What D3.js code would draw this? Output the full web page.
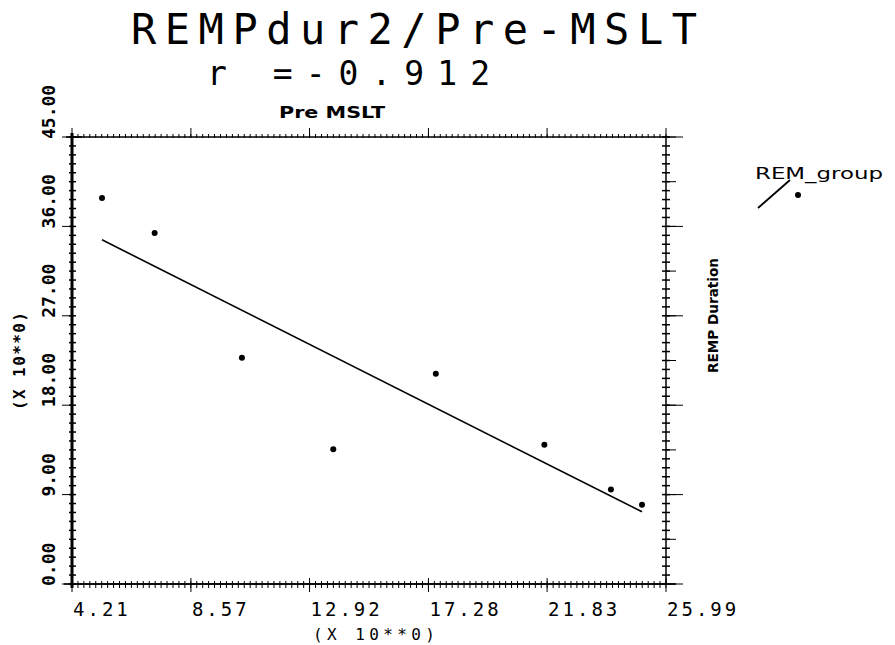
<!DOCTYPE html>
<html>
<head>
<meta charset="utf-8">
<script src="https://cdn.jsdelivr.net/npm/d3@7"></script>
<style>
  body { margin: 0; background: #fff; }
  svg { display: block; }
  text { fill: #000; }
  .mono { font-family: "DejaVu Sans Mono", monospace; }
</style>
</head>
<body>
<div id="chart"></div>
<script>
// values
const preMSLT = [5.31, 7.24, 10.44, 13.79, 17.55, 21.53, 23.97, 25.11]
const rempDuration = [38.85, 35.33, 22.77, 13.56, 21.16, 14.03, 9.51, 7.97]

const xTickValues = [4.21, 8.57, 12.92, 17.28, 21.63, 25.99]
const xTickLabels = ['4.21', '8.57', '12.92', '17.28', '21.83', '25.99']
const yTickValues = [0, 9, 18, 27, 36, 45]
const yTickLabels = ['0.00', '9.00', '18.00', '27.00', '36.00', '45.00']

const titleLines = ['REMPdur2/Pre-MSLT', 'r =-0.912']
const legendLabel = 'REM_group'

const W = 895, H = 645
const DIM = { left: 72, top: 137, right: 666, bottom: 584 }

const svg = d3.select('#chart').append('svg')
    .attr('width', W)
    .attr('height', H)

const x = d3.scaleLinear().domain([4.21, 25.99]).range([DIM.left, DIM.right])
const y = d3.scaleLinear().domain([0, 45]).range([DIM.bottom, DIM.top])

// title
svg.append('text')
    .attr('class', 'mono')
    .attr('x', 131).attr('y', 44)
    .attr('font-size', 42)
    .attr('textLength', 566)
    .attr('lengthAdjust', 'spacing')
    .text(titleLines[0])

svg.append('text')
    .attr('class', 'mono')
    .attr('x', 207).attr('y', 85)
    .attr('font-size', 33)
    .attr('textLength', 283)
    .attr('lengthAdjust', 'spacing')
    .text(titleLines[1])

// frame
const frame = svg.append('g').attr('stroke', '#000').attr('fill', 'none')
frame.append('rect')
    .attr('x', DIM.left).attr('y', DIM.top)
    .attr('width', DIM.right - DIM.left).attr('height', DIM.bottom - DIM.top)
    .attr('stroke-width', 1.5)
// left axis a bit heavier
frame.append('line')
    .attr('x1', DIM.left).attr('x2', DIM.left)
    .attr('y1', DIM.top - 4).attr('y2', DIM.bottom + 4)
    .attr('stroke-width', 3)
frame.append('line')
    .attr('x1', DIM.left - 8).attr('x2', DIM.right + 10)
    .attr('y1', DIM.bottom).attr('y2', DIM.bottom)
    .attr('stroke-width', 1.5)
frame.append('line')
    .attr('x1', DIM.left - 6).attr('x2', DIM.left + 10)
    .attr('y1', DIM.top).attr('y2', DIM.top)
    .attr('stroke-width', 1.5)

// minor ticks
const xMinor = d3.range(0, 101).map(i => 4.21 + i * (25.99 - 4.21) / 100)
const yMinor = d3.range(0, 51).map(i => i * 0.9)

frame.selectAll('.xminor-b').data(xMinor).join('line')
    .attr('x1', d => x(d)).attr('x2', d => x(d))
    .attr('y1', DIM.bottom - 3).attr('y2', DIM.bottom + 4)
frame.selectAll('.xminor-t').data(xMinor).join('line')
    .attr('x1', d => x(d)).attr('x2', d => x(d))
    .attr('y1', DIM.top - 3).attr('y2', DIM.top + 1)
frame.selectAll('.yminor-l').data(yMinor).join('line')
    .attr('x1', DIM.left - 3).attr('x2', DIM.left + 4)
    .attr('y1', d => y(d)).attr('y2', d => y(d))
    .attr('stroke-width', 1.5)
frame.selectAll('.yminor-r').data(yMinor).join('line')
    .attr('x1', DIM.right - 4).attr('x2', DIM.right + 4)
    .attr('y1', d => y(d)).attr('y2', d => y(d))
    .attr('stroke-width', 1.5)
frame.selectAll('.ymid-r').data(d3.range(0, 46, 4.5)).join('line')
    .attr('x1', DIM.right).attr('x2', DIM.right + 10)
    .attr('y1', d => y(d)).attr('y2', d => y(d))

// major ticks
frame.selectAll('.xmajor').data(xTickValues).join('line')
    .attr('x1', d => x(d)).attr('x2', d => x(d))
    .attr('y1', DIM.top - 9).attr('y2', DIM.top)
frame.selectAll('.xmajor-b').data(xTickValues).join('line')
    .attr('x1', d => x(d)).attr('x2', d => x(d))
    .attr('y1', DIM.bottom - 6).attr('y2', DIM.bottom + 8)
frame.selectAll('.ymajor').data(yTickValues).join('line')
    .attr('x1', DIM.left - 10).attr('x2', DIM.left)
    .attr('y1', d => y(d)).attr('y2', d => y(d))
frame.selectAll('.ymajor-r').data(yTickValues).join('line')
    .attr('x1', DIM.right).attr('x2', DIM.right + 17)
    .attr('y1', d => y(d)).attr('y2', d => y(d))

// x tick labels
svg.selectAll('.xlab').data(xTickValues).join('text')
    .attr('class', 'mono')
    .attr('x', d => x(d) + 1)
    .attr('y', 616)
    .attr('font-size', 19)
    .attr('letter-spacing', 3)
    .text((d, i) => xTickLabels[i])

svg.append('text')
    .attr('class', 'mono')
    .attr('x', 313).attr('y', 640)
    .attr('font-size', 16)
    .attr('textLength', 122)
    .attr('lengthAdjust', 'spacing')
    .text('(X 10**0)')

// y tick labels (rotated, reading upward from the tick)
svg.selectAll('.ylab').data(yTickValues).join('text')
    .attr('class', 'mono')
    .attr('font-size', 18)
    .attr('font-weight', 'bold')
    .attr('transform', d => `translate(55, ${y(d) + 2}) rotate(-90)`)
    .text((d, i) => yTickLabels[i])

svg.append('text')
    .attr('class', 'mono')
    .attr('font-size', 16)
    .attr('font-weight', 'bold')
    .attr('transform', `translate(25, 410) rotate(-90)`)
    .attr('textLength', 98)
    .attr('lengthAdjust', 'spacing')
    .text('(X 10**0)')

// axis titles
svg.append('text')
    .attr('x', 279).attr('y', 118)
    .attr('font-family', 'DejaVu Sans')
    .attr('font-size', 15)
    .attr('font-weight', 'bold')
    .attr('textLength', 106)
    .attr('lengthAdjust', 'spacingAndGlyphs')
    .text('Pre MSLT')

svg.append('text')
    .attr('font-family', 'DejaVu Sans')
    .attr('font-size', 14)
    .attr('font-weight', 'bold')
    .attr('transform', `translate(718, 373) rotate(-90)`)
    .attr('textLength', 115)
    .attr('lengthAdjust', 'spacingAndGlyphs')
    .text('REMP Duration')

// regression line (least squares through the points)
const mx = d3.mean(preMSLT), my = d3.mean(rempDuration)
const sxy = d3.sum(preMSLT, (v, i) => (v - mx) * (rempDuration[i] - my))
const sxx = d3.sum(preMSLT, v => (v - mx) * (v - mx))
const slope = sxy / sxx
const intercept = my - slope * mx
const ext = d3.extent(preMSLT)

svg.append('path')
    .datum(ext)
    .attr('fill', 'none')
    .attr('stroke', '#000')
    .attr('stroke-width', 1.6)
    .attr('d', d3.line()
        .x(d => x(d))
        .y(d => y(intercept + slope * d)))

// points
svg.selectAll('.point').data(preMSLT).join('circle')
    .attr('class', 'point')
    .attr('cx', d => x(d))
    .attr('cy', (d, i) => y(rempDuration[i]))
    .attr('r', 3)
    .attr('fill', '#000')

// legend
const legend = svg.append('g')
legend.append('text')
    .attr('x', 755).attr('y', 179)
    .attr('font-family', 'DejaVu Sans')
    .attr('font-size', 15)
    .attr('textLength', 128)
    .attr('lengthAdjust', 'spacingAndGlyphs')
    .text(legendLabel)
legend.append('line')
    .attr('x1', 758).attr('y1', 208)
    .attr('x2', 790).attr('y2', 180)
    .attr('stroke', '#000')
    .attr('stroke-width', 1.8)
legend.append('circle')
    .attr('cx', 798).attr('cy', 195)
    .attr('r', 3)
    .attr('fill', '#000')
</script>
</body>
</html>
